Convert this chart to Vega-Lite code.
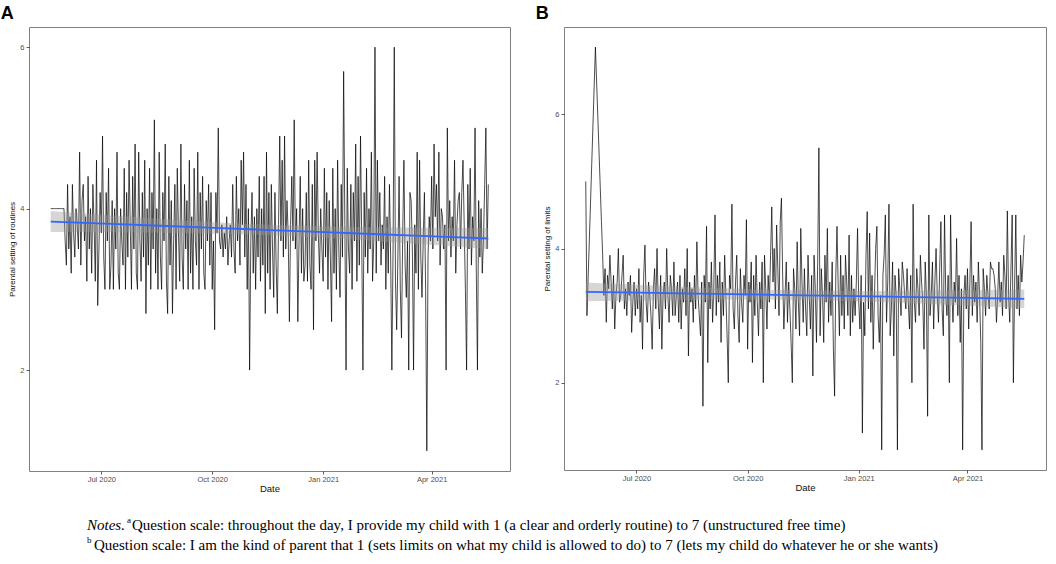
{
  "$schema": "https://vega.github.io/schema/vega-lite/v6.json",
  "autosize": {"type": "pad"},
  "padding": {"left": 0, "right": 4, "top": 4, "bottom": 0},
  "background": "white",
  "datasets": {
    "daily": [
      {"d":"2020-05-20","a":4.0,"b":5.0},{"d":"2020-05-21","a":4.0,"b":3.0},{"d":"2020-05-22","a":4.0,"b":null},{"d":"2020-05-23","a":4.0,"b":null},
      {"d":"2020-05-24","a":4.0,"b":null},{"d":"2020-05-25","a":4.0,"b":null},{"d":"2020-05-26","a":4.0,"b":null},{"d":"2020-05-27","a":4.0,"b":null},
      {"d":"2020-05-28","a":4.0,"b":7.0},{"d":"2020-05-29","a":4.0,"b":null},{"d":"2020-05-30","a":4.0,"b":null},{"d":"2020-05-31","a":4.0,"b":null},
      {"d":"2020-06-01","a":3.6,"b":null},{"d":"2020-06-02","a":3.3,"b":4.4},{"d":"2020-06-03","a":4.3,"b":3.9},{"d":"2020-06-04","a":3.5,"b":3.3},
      {"d":"2020-06-05","a":3.9,"b":3.7},{"d":"2020-06-06","a":3.2,"b":2.9},{"d":"2020-06-07","a":4.3,"b":3.6},{"d":"2020-06-08","a":3.7,"b":3.4},
      {"d":"2020-06-09","a":3.4,"b":3.9},{"d":"2020-06-10","a":4.0,"b":3.5},{"d":"2020-06-11","a":3.8,"b":3.1},{"d":"2020-06-12","a":3.5,"b":3.6},
      {"d":"2020-06-13","a":4.7,"b":2.8},{"d":"2020-06-14","a":3.3,"b":3.3},{"d":"2020-06-15","a":4.1,"b":3.5},{"d":"2020-06-16","a":4.3,"b":4.0},
      {"d":"2020-06-17","a":3.6,"b":3.2},{"d":"2020-06-18","a":3.9,"b":3.3},{"d":"2020-06-19","a":3.1,"b":3.6},{"d":"2020-06-20","a":4.4,"b":3.9},
      {"d":"2020-06-21","a":3.5,"b":3.1},{"d":"2020-06-22","a":4.0,"b":3.4},{"d":"2020-06-23","a":3.2,"b":3.0},{"d":"2020-06-24","a":4.3,"b":3.5},
      {"d":"2020-06-25","a":3.8,"b":3.3},{"d":"2020-06-26","a":3.1,"b":3.6},{"d":"2020-06-27","a":4.6,"b":2.75},{"d":"2020-06-28","a":2.8,"b":3.2},
      {"d":"2020-06-29","a":3.5,"b":3.5},{"d":"2020-06-30","a":4.2,"b":3.0},
      {"d":"2020-07-01","a":3.7,"b":3.4},{"d":"2020-07-02","a":4.9,"b":3.1},{"d":"2020-07-03","a":3.4,"b":3.7},{"d":"2020-07-04","a":3.0,"b":2.9},
      {"d":"2020-07-05","a":4.2,"b":3.3},{"d":"2020-07-06","a":3.6,"b":2.5},{"d":"2020-07-07","a":4.5,"b":3.6},{"d":"2020-07-08","a":3.0,"b":4.05},
      {"d":"2020-07-09","a":3.3,"b":3.2},{"d":"2020-07-10","a":4.1,"b":2.9},{"d":"2020-07-11","a":3.0,"b":3.5},{"d":"2020-07-12","a":4.0,"b":3.3},
      {"d":"2020-07-13","a":3.5,"b":3.0},{"d":"2020-07-14","a":4.7,"b":2.5},{"d":"2020-07-15","a":3.2,"b":3.4},{"d":"2020-07-16","a":3.0,"b":3.7},
      {"d":"2020-07-17","a":4.0,"b":3.1},{"d":"2020-07-18","a":3.6,"b":4.0},{"d":"2020-07-19","a":3.3,"b":3.2},{"d":"2020-07-20","a":4.5,"b":2.8},
      {"d":"2020-07-21","a":3.0,"b":3.6},{"d":"2020-07-22","a":4.2,"b":2.5},{"d":"2020-07-23","a":3.4,"b":3.3},{"d":"2020-07-24","a":4.6,"b":3.5},
      {"d":"2020-07-25","a":3.8,"b":3.1},{"d":"2020-07-26","a":3.0,"b":4.0},{"d":"2020-07-27","a":4.4,"b":3.3},{"d":"2020-07-28","a":3.5,"b":2.9},
      {"d":"2020-07-29","a":4.8,"b":3.6},{"d":"2020-07-30","a":3.2,"b":3.4},{"d":"2020-07-31","a":3.0,"b":3.0},
      {"d":"2020-08-01","a":4.7,"b":3.8},{"d":"2020-08-02","a":3.6,"b":3.0},{"d":"2020-08-03","a":3.1,"b":3.3},{"d":"2020-08-04","a":4.2,"b":3.5},
      {"d":"2020-08-05","a":3.4,"b":2.9},{"d":"2020-08-06","a":4.6,"b":3.6},{"d":"2020-08-07","a":2.7,"b":2.8},{"d":"2020-08-08","a":4.0,"b":3.4},
      {"d":"2020-08-09","a":3.3,"b":3.2},{"d":"2020-08-10","a":4.5,"b":3.7},{"d":"2020-08-11","a":3.0,"b":3.0},{"d":"2020-08-12","a":4.2,"b":4.0},
      {"d":"2020-08-13","a":3.5,"b":2.4},{"d":"2020-08-14","a":5.1,"b":3.5},{"d":"2020-08-15","a":3.2,"b":3.2},{"d":"2020-08-16","a":4.0,"b":3.4},
      {"d":"2020-08-17","a":3.0,"b":2.9},{"d":"2020-08-18","a":4.7,"b":3.6},{"d":"2020-08-19","a":3.4,"b":3.1},{"d":"2020-08-20","a":3.0,"b":4.1},
      {"d":"2020-08-21","a":4.2,"b":3.3},{"d":"2020-08-22","a":3.6,"b":3.0},{"d":"2020-08-23","a":4.8,"b":2.7},{"d":"2020-08-24","a":3.1,"b":3.5},
      {"d":"2020-08-25","a":2.7,"b":1.65},{"d":"2020-08-26","a":4.4,"b":3.6},{"d":"2020-08-27","a":3.3,"b":3.2},{"d":"2020-08-28","a":4.1,"b":4.33},
      {"d":"2020-08-29","a":2.7,"b":2.3},{"d":"2020-08-30","a":3.6,"b":3.5},{"d":"2020-08-31","a":4.3,"b":3.1},
      {"d":"2020-09-01","a":3.0,"b":3.8},{"d":"2020-09-02","a":4.5,"b":2.9},{"d":"2020-09-03","a":3.7,"b":3.4},{"d":"2020-09-04","a":3.1,"b":4.5},
      {"d":"2020-09-05","a":4.8,"b":3.0},{"d":"2020-09-06","a":3.4,"b":3.6},{"d":"2020-09-07","a":3.0,"b":3.2},{"d":"2020-09-08","a":4.3,"b":3.8},
      {"d":"2020-09-09","a":3.5,"b":2.6},{"d":"2020-09-10","a":4.1,"b":3.5},{"d":"2020-09-11","a":3.0,"b":3.0},{"d":"2020-09-12","a":4.6,"b":3.9},
      {"d":"2020-09-13","a":3.2,"b":3.3},{"d":"2020-09-14","a":3.9,"b":2.7},{"d":"2020-09-15","a":3.0,"b":2.0},{"d":"2020-09-16","a":4.5,"b":3.6},
      {"d":"2020-09-17","a":3.6,"b":3.4},{"d":"2020-09-18","a":3.3,"b":4.66},{"d":"2020-09-19","a":4.7,"b":3.1},{"d":"2020-09-20","a":3.0,"b":2.8},
      {"d":"2020-09-21","a":4.2,"b":3.5},{"d":"2020-09-22","a":3.5,"b":3.9},{"d":"2020-09-23","a":4.4,"b":3.0},{"d":"2020-09-24","a":3.2,"b":2.6},
      {"d":"2020-09-25","a":3.0,"b":3.7},{"d":"2020-09-26","a":4.1,"b":3.2},{"d":"2020-09-27","a":3.6,"b":2.9},{"d":"2020-09-28","a":4.3,"b":3.6},
      {"d":"2020-09-29","a":3.3,"b":3.3},{"d":"2020-09-30","a":4.2,"b":4.43},
      {"d":"2020-10-01","a":3.0,"b":2.5},{"d":"2020-10-02","a":3.6,"b":3.5},{"d":"2020-10-03","a":2.5,"b":3.2},{"d":"2020-10-04","a":4.2,"b":3.8},
      {"d":"2020-10-05","a":3.7,"b":2.3},{"d":"2020-10-06","a":5.0,"b":3.6},{"d":"2020-10-07","a":3.6,"b":3.0},{"d":"2020-10-08","a":3.5,"b":3.9},
      {"d":"2020-10-09","a":3.8,"b":3.2},{"d":"2020-10-10","a":3.4,"b":2.7},{"d":"2020-10-11","a":3.7,"b":3.5},{"d":"2020-10-12","a":3.5,"b":3.1},
      {"d":"2020-10-13","a":3.9,"b":3.8},{"d":"2020-10-14","a":3.3,"b":2.0},{"d":"2020-10-15","a":3.6,"b":3.9},{"d":"2020-10-16","a":3.8,"b":3.4},
      {"d":"2020-10-17","a":3.4,"b":2.8},{"d":"2020-10-18","a":4.3,"b":3.6},{"d":"2020-10-19","a":3.5,"b":3.2},{"d":"2020-10-20","a":3.2,"b":3.9},
      {"d":"2020-10-21","a":4.4,"b":4.62},{"d":"2020-10-22","a":3.6,"b":3.5},{"d":"2020-10-23","a":4.0,"b":4.0},{"d":"2020-10-24","a":3.3,"b":3.1},
      {"d":"2020-10-25","a":4.6,"b":4.35},{"d":"2020-10-26","a":3.8,"b":3.7},{"d":"2020-10-27","a":4.7,"b":3.0},{"d":"2020-10-28","a":3.4,"b":4.4},
      {"d":"2020-10-29","a":4.3,"b":4.75},{"d":"2020-10-30","a":3.0,"b":3.6},{"d":"2020-10-31","a":4.0,"b":2.8},
      {"d":"2020-11-01","a":2.0,"b":3.3},{"d":"2020-11-02","a":3.6,"b":3.8},{"d":"2020-11-03","a":4.2,"b":2.9},{"d":"2020-11-04","a":3.2,"b":3.5},
      {"d":"2020-11-05","a":3.9,"b":3.1},{"d":"2020-11-06","a":3.0,"b":2.6},{"d":"2020-11-07","a":4.0,"b":2.0},{"d":"2020-11-08","a":3.4,"b":3.7},
      {"d":"2020-11-09","a":4.4,"b":3.4},{"d":"2020-11-10","a":3.1,"b":2.8},{"d":"2020-11-11","a":4.0,"b":4.1},{"d":"2020-11-12","a":3.3,"b":3.2},
      {"d":"2020-11-13","a":4.4,"b":2.7},{"d":"2020-11-14","a":2.7,"b":4.3},{"d":"2020-11-15","a":4.7,"b":3.5},{"d":"2020-11-16","a":3.2,"b":2.9},
      {"d":"2020-11-17","a":4.2,"b":3.7},{"d":"2020-11-18","a":3.0,"b":3.1},{"d":"2020-11-19","a":4.3,"b":2.7},{"d":"2020-11-20","a":3.5,"b":3.9},
      {"d":"2020-11-21","a":2.9,"b":3.3},{"d":"2020-11-22","a":4.2,"b":2.8},{"d":"2020-11-23","a":3.3,"b":3.6},{"d":"2020-11-24","a":2.7,"b":2.1},
      {"d":"2020-11-25","a":3.8,"b":3.9},{"d":"2020-11-26","a":4.9,"b":3.4},{"d":"2020-11-27","a":3.6,"b":2.6},{"d":"2020-11-28","a":4.6,"b":3.8},
      {"d":"2020-11-29","a":3.4,"b":5.5},{"d":"2020-11-30","a":4.9,"b":2.7},
      {"d":"2020-12-01","a":3.5,"b":3.7},{"d":"2020-12-02","a":4.1,"b":3.3},{"d":"2020-12-03","a":3.7,"b":2.6},{"d":"2020-12-04","a":2.6,"b":3.9},
      {"d":"2020-12-05","a":3.8,"b":3.2},{"d":"2020-12-06","a":4.4,"b":4.3},{"d":"2020-12-07","a":3.6,"b":2.9},{"d":"2020-12-08","a":5.1,"b":3.5},
      {"d":"2020-12-09","a":3.5,"b":3.0},{"d":"2020-12-10","a":4.0,"b":3.8},{"d":"2020-12-11","a":2.6,"b":2.5},{"d":"2020-12-12","a":3.6,"b":1.8},
      {"d":"2020-12-13","a":4.4,"b":3.6},{"d":"2020-12-14","a":3.2,"b":4.33},{"d":"2020-12-15","a":4.0,"b":3.4},{"d":"2020-12-16","a":3.1,"b":2.7},
      {"d":"2020-12-17","a":3.3,"b":3.9},{"d":"2020-12-18","a":4.2,"b":3.0},{"d":"2020-12-19","a":3.1,"b":3.6},{"d":"2020-12-20","a":4.6,"b":2.8},
      {"d":"2020-12-21","a":3.3,"b":3.9},{"d":"2020-12-22","a":3.0,"b":3.5},{"d":"2020-12-23","a":4.3,"b":3.0},{"d":"2020-12-24","a":2.5,"b":4.2},
      {"d":"2020-12-25","a":4.6,"b":2.7},{"d":"2020-12-26","a":3.6,"b":3.6},{"d":"2020-12-27","a":4.7,"b":2.9},{"d":"2020-12-28","a":3.7,"b":3.4},
      {"d":"2020-12-29","a":3.2,"b":3.0},{"d":"2020-12-30","a":4.0,"b":3.5},{"d":"2020-12-31","a":3.5,"b":4.3},
      {"d":"2021-01-01","a":3.1,"b":3.2},{"d":"2021-01-02","a":4.5,"b":2.8},{"d":"2021-01-03","a":3.4,"b":3.6},{"d":"2021-01-04","a":4.2,"b":1.25},
      {"d":"2021-01-05","a":3.0,"b":3.2},{"d":"2021-01-06","a":4.1,"b":2.7},{"d":"2021-01-07","a":3.4,"b":3.9},{"d":"2021-01-08","a":2.6,"b":4.55},
      {"d":"2021-01-09","a":4.5,"b":3.1},{"d":"2021-01-10","a":3.2,"b":4.23},{"d":"2021-01-11","a":4.0,"b":2.9},{"d":"2021-01-12","a":3.0,"b":3.6},
      {"d":"2021-01-13","a":4.6,"b":2.5},{"d":"2021-01-14","a":3.5,"b":3.3},{"d":"2021-01-15","a":2.9,"b":4.0},{"d":"2021-01-16","a":4.3,"b":4.33},
      {"d":"2021-01-17","a":3.4,"b":3.0},{"d":"2021-01-18","a":5.7,"b":2.6},{"d":"2021-01-19","a":3.8,"b":3.3},{"d":"2021-01-20","a":2.0,"b":1.0},
      {"d":"2021-01-21","a":4.5,"b":3.6},{"d":"2021-01-22","a":3.5,"b":3.9},{"d":"2021-01-23","a":3.2,"b":4.5},{"d":"2021-01-24","a":4.3,"b":2.9},
      {"d":"2021-01-25","a":3.0,"b":3.5},{"d":"2021-01-26","a":4.2,"b":4.66},{"d":"2021-01-27","a":3.6,"b":2.7},{"d":"2021-01-28","a":4.8,"b":3.1},
      {"d":"2021-01-29","a":3.1,"b":3.8},{"d":"2021-01-30","a":4.4,"b":2.4},{"d":"2021-01-31","a":3.3,"b":3.6},
      {"d":"2021-02-01","a":4.9,"b":3.3},{"d":"2021-02-02","a":3.6,"b":1.0},{"d":"2021-02-03","a":2.0,"b":3.7},{"d":"2021-02-04","a":4.2,"b":3.4},
      {"d":"2021-02-05","a":3.4,"b":3.0},{"d":"2021-02-06","a":4.5,"b":3.8},{"d":"2021-02-07","a":3.2,"b":3.6},{"d":"2021-02-08","a":4.0,"b":3.3},
      {"d":"2021-02-09","a":3.5,"b":3.1},{"d":"2021-02-10","a":4.7,"b":3.7},{"d":"2021-02-11","a":3.1,"b":3.2},{"d":"2021-02-12","a":3.6,"b":2.8},
      {"d":"2021-02-13","a":6.0,"b":3.6},{"d":"2021-02-14","a":3.2,"b":2.0},{"d":"2021-02-15","a":4.6,"b":4.66},{"d":"2021-02-16","a":3.6,"b":3.2},
      {"d":"2021-02-17","a":4.2,"b":2.9},{"d":"2021-02-18","a":3.3,"b":3.7},{"d":"2021-02-19","a":3.8,"b":3.4},{"d":"2021-02-20","a":3.5,"b":3.0},
      {"d":"2021-02-21","a":4.4,"b":3.9},{"d":"2021-02-22","a":3.0,"b":3.5},{"d":"2021-02-23","a":3.9,"b":3.2},{"d":"2021-02-24","a":3.2,"b":2.5},
      {"d":"2021-02-25","a":4.3,"b":3.8},{"d":"2021-02-26","a":3.4,"b":3.3},{"d":"2021-02-27","a":2.0,"b":1.5},{"d":"2021-02-28","a":3.5,"b":4.5},
      {"d":"2021-03-01","a":6.0,"b":3.0},{"d":"2021-03-02","a":3.1,"b":3.3},{"d":"2021-03-03","a":2.5,"b":3.8},{"d":"2021-03-04","a":3.4,"b":2.8},
      {"d":"2021-03-05","a":4.4,"b":3.5},{"d":"2021-03-06","a":3.0,"b":4.0},{"d":"2021-03-07","a":2.4,"b":3.3},{"d":"2021-03-08","a":3.7,"b":2.9},
      {"d":"2021-03-09","a":4.6,"b":3.7},{"d":"2021-03-10","a":3.3,"b":4.4},{"d":"2021-03-11","a":2.9,"b":3.1},{"d":"2021-03-12","a":3.6,"b":2.7},
      {"d":"2021-03-13","a":2.0,"b":4.5},{"d":"2021-03-14","a":4.2,"b":3.3},{"d":"2021-03-15","a":4.1,"b":3.0},{"d":"2021-03-16","a":3.5,"b":3.6},
      {"d":"2021-03-17","a":2.0,"b":2.0},{"d":"2021-03-18","a":3.8,"b":4.5},{"d":"2021-03-19","a":3.2,"b":3.4},{"d":"2021-03-20","a":4.7,"b":2.9},
      {"d":"2021-03-21","a":3.0,"b":3.5},{"d":"2021-03-22","a":4.6,"b":3.2},{"d":"2021-03-23","a":3.4,"b":4.15},{"d":"2021-03-24","a":2.9,"b":3.0},
      {"d":"2021-03-25","a":3.6,"b":3.6},{"d":"2021-03-26","a":4.2,"b":2.6},{"d":"2021-03-27","a":3.0,"b":3.4},{"d":"2021-03-28","a":1.0,"b":1.0},
      {"d":"2021-03-29","a":3.4,"b":3.3},{"d":"2021-03-30","a":3.9,"b":3.6},{"d":"2021-03-31","a":3.6,"b":3.1},
      {"d":"2021-04-01","a":4.4,"b":3.7},{"d":"2021-04-02","a":3.5,"b":2.8},{"d":"2021-04-03","a":4.8,"b":3.5},{"d":"2021-04-04","a":3.9,"b":4.4},
      {"d":"2021-04-05","a":4.3,"b":3.0},{"d":"2021-04-06","a":3.6,"b":3.6},{"d":"2021-04-07","a":4.7,"b":3.2},{"d":"2021-04-08","a":3.3,"b":3.5},
      {"d":"2021-04-09","a":4.0,"b":2.9},{"d":"2021-04-10","a":3.9,"b":3.8},{"d":"2021-04-11","a":3.5,"b":3.3},{"d":"2021-04-12","a":3.8,"b":2.6},
      {"d":"2021-04-13","a":2.0,"b":1.0},{"d":"2021-04-14","a":5.0,"b":3.7},{"d":"2021-04-15","a":3.6,"b":3.4},{"d":"2021-04-16","a":4.1,"b":3.0},
      {"d":"2021-04-17","a":3.4,"b":3.6},{"d":"2021-04-18","a":3.9,"b":3.3},{"d":"2021-04-19","a":3.6,"b":3.1},{"d":"2021-04-20","a":4.6,"b":3.8},
      {"d":"2021-04-21","a":3.2,"b":3.7},{"d":"2021-04-22","a":3.8,"b":3.7},{"d":"2021-04-23","a":4.1,"b":3.6},{"d":"2021-04-24","a":4.2,"b":3.4},
      {"d":"2021-04-25","a":3.5,"b":2.9},{"d":"2021-04-26","a":4.2,"b":3.3},{"d":"2021-04-27","a":4.6,"b":3.8},{"d":"2021-04-28","a":3.8,"b":3.2},
      {"d":"2021-04-29","a":3.0,"b":3.5},{"d":"2021-04-30","a":2.0,"b":3.0},
      {"d":"2021-05-01","a":4.3,"b":3.9},{"d":"2021-05-02","a":3.5,"b":3.6},{"d":"2021-05-03","a":4.5,"b":3.1},{"d":"2021-05-04","a":3.3,"b":4.56},
      {"d":"2021-05-05","a":3.9,"b":3.3},{"d":"2021-05-06","a":3.6,"b":2.9},{"d":"2021-05-07","a":5.0,"b":3.7},{"d":"2021-05-08","a":3.3,"b":4.5},
      {"d":"2021-05-09","a":2.0,"b":2.0},{"d":"2021-05-10","a":4.1,"b":3.4},{"d":"2021-05-11","a":3.4,"b":4.5},{"d":"2021-05-12","a":4.0,"b":3.1},
      {"d":"2021-05-13","a":3.2,"b":3.6},{"d":"2021-05-14","a":3.6,"b":3.0},{"d":"2021-05-15","a":4.3,"b":3.9},{"d":"2021-05-16","a":5.0,"b":3.5},
      {"d":"2021-05-17","a":3.5,"b":3.8},{"d":"2021-05-18","a":4.3,"b":4.2}
    ],
    "fitA": [
      {"d":"2020-05-20","fit":3.84,"lo":3.71,"hi":3.97},
      {"d":"2020-07-04","fit":3.814,"lo":3.707,"hi":3.921},
      {"d":"2020-08-19","fit":3.788,"lo":3.702,"hi":3.874},
      {"d":"2020-10-03","fit":3.761,"lo":3.69,"hi":3.832},
      {"d":"2020-11-18","fit":3.735,"lo":3.67,"hi":3.8},
      {"d":"2021-01-02","fit":3.709,"lo":3.638,"hi":3.78},
      {"d":"2021-02-16","fit":3.683,"lo":3.597,"hi":3.769},
      {"d":"2021-04-03","fit":3.656,"lo":3.549,"hi":3.763},
      {"d":"2021-05-18","fit":3.63,"lo":3.5,"hi":3.76}
    ],
    "fitB": [
      {"d":"2020-05-20","fit":3.355,"lo":3.215,"hi":3.495},
      {"d":"2020-07-04","fit":3.342,"lo":3.227,"hi":3.457},
      {"d":"2020-08-19","fit":3.329,"lo":3.236,"hi":3.422},
      {"d":"2020-10-03","fit":3.316,"lo":3.24,"hi":3.392},
      {"d":"2020-11-18","fit":3.303,"lo":3.233,"hi":3.373},
      {"d":"2021-01-02","fit":3.289,"lo":3.213,"hi":3.365},
      {"d":"2021-02-16","fit":3.276,"lo":3.183,"hi":3.369},
      {"d":"2021-04-03","fit":3.263,"lo":3.148,"hi":3.378},
      {"d":"2021-05-18","fit":3.25,"lo":3.11,"hi":3.39}
    ],
    "notes": [
      {"line":1,"part":"label","text":"Notes."},
      {"line":1,"part":"supa","text":"a"},
      {"line":1,"part":"texta","text":"Question scale: throughout the day, I provide my child with 1 (a clear and orderly routine) to 7 (unstructured free time)"},
      {"line":2,"part":"supb","text":"b"},
      {"line":2,"part":"textb","text":"Question scale: I am the kind of parent that 1 (sets limits on what my child is allowed to do) to 7 (lets my child do whatever he or she wants)"}
    ]
  },
  "vconcat": [
    {
      "hconcat": [
        {
          "width": 481,
          "height": 444,
          "title": {"text": "A"},
          "encoding": {
            "x": {
              "field": "d",
              "type": "temporal",
              "title": "Date",
              "scale": {"type": "utc", "domain": [{"year": 2020, "month": 5, "date": 2, "utc": true}, {"year": 2021, "month": 6, "date": 5, "utc": true}]},
              "axis": {
                "values": [{"year": 2020, "month": 7, "date": 1, "utc": true}, {"year": 2020, "month": 10, "date": 1, "utc": true}, {"year": 2021, "month": 1, "date": 1, "utc": true}, {"year": 2021, "month": 4, "date": 1, "utc": true}],
                "labelExpr": "utcFormat(datum.value, '%b %Y')"
              }
            }
          },
          "layer": [
            {
              "data": {"name": "daily"},
              "transform": [{"filter": "isValid(datum.a)"}],
              "mark": {"type": "line", "color": "#000000", "strokeWidth": 0.7},
              "encoding": {
                "y": {"field": "a", "type": "quantitative", "title": "Parental setting of routines", "scale": {"domain": [0.75, 6.25], "nice": false, "zero": false}, "axis": {"values": [2, 4, 6], "format": "d"}}
              }
            },
            {
              "data": {"name": "fitA"},
              "mark": {"type": "area", "color": "#999999", "opacity": 0.4},
              "encoding": {
                "y": {"field": "lo", "type": "quantitative", "title": "Parental setting of routines"},
                "y2": {"field": "hi"}
              }
            },
            {
              "data": {"name": "fitA"},
              "mark": {"type": "line", "color": "#3366ff", "strokeWidth": 1.8},
              "encoding": {
                "y": {"field": "fit", "type": "quantitative", "title": "Parental setting of routines"}
              }
            }
          ]
        },
        {
          "width": 482,
          "height": 443,
          "title": {"text": "B"},
          "encoding": {
            "x": {
              "field": "d",
              "type": "temporal",
              "title": "Date",
              "scale": {"type": "utc", "domain": [{"year": 2020, "month": 5, "date": 2, "utc": true}, {"year": 2021, "month": 6, "date": 5, "utc": true}]},
              "axis": {
                "values": [{"year": 2020, "month": 7, "date": 1, "utc": true}, {"year": 2020, "month": 10, "date": 1, "utc": true}, {"year": 2021, "month": 1, "date": 1, "utc": true}, {"year": 2021, "month": 4, "date": 1, "utc": true}],
                "labelExpr": "utcFormat(datum.value, '%b %Y')"
              }
            }
          },
          "layer": [
            {
              "data": {"name": "daily"},
              "transform": [{"filter": "isValid(datum.b)"}],
              "mark": {"type": "line", "color": "#000000", "strokeWidth": 0.7},
              "encoding": {
                "y": {"field": "b", "type": "quantitative", "title": "Parental setting of limits", "scale": {"domain": [0.7, 7.3], "nice": false, "zero": false}, "axis": {"values": [2, 4, 6], "format": "d"}}
              }
            },
            {
              "data": {"name": "fitB"},
              "mark": {"type": "area", "color": "#999999", "opacity": 0.4},
              "encoding": {
                "y": {"field": "lo", "type": "quantitative", "title": "Parental setting of limits"},
                "y2": {"field": "hi"}
              }
            },
            {
              "data": {"name": "fitB"},
              "mark": {"type": "line", "color": "#3366ff", "strokeWidth": 1.8},
              "encoding": {
                "y": {"field": "fit", "type": "quantitative", "title": "Parental setting of limits"}
              }
            }
          ]
        }
      ],
      "spacing": 24
    },
    {
      "width": 116,
      "height": 40,
      "view": {"stroke": null},
      "data": {"name": "notes"},
      "encoding": {
        "y": {"field": "line", "type": "ordinal", "axis": null, "scale": {"paddingInner": 0, "paddingOuter": 0}}
      },
      "layer": [
        {
          "transform": [{"filter": "datum.part == 'label'"}],
          "mark": {"type": "text", "align": "left", "baseline": "middle", "font": "Liberation Serif", "fontSize": 15, "fontStyle": "italic", "color": "#000000"},
          "encoding": {"text": {"field": "text"}}
        },
        {
          "transform": [{"filter": "datum.part == 'supa'"}],
          "mark": {"type": "text", "align": "left", "baseline": "middle", "font": "Liberation Serif", "fontSize": 9, "dx": 40, "dy": -5, "color": "#000000"},
          "encoding": {"text": {"field": "text"}}
        },
        {
          "transform": [{"filter": "datum.part == 'texta'"}],
          "mark": {"type": "text", "align": "left", "baseline": "middle", "font": "Liberation Serif", "fontSize": 15, "dx": 45, "color": "#000000"},
          "encoding": {"text": {"field": "text"}}
        },
        {
          "transform": [{"filter": "datum.part == 'supb'"}],
          "mark": {"type": "text", "align": "left", "baseline": "middle", "font": "Liberation Serif", "fontSize": 9, "dy": -5, "color": "#000000"},
          "encoding": {"text": {"field": "text"}}
        },
        {
          "transform": [{"filter": "datum.part == 'textb'"}],
          "mark": {"type": "text", "align": "left", "baseline": "middle", "font": "Liberation Serif", "fontSize": 15, "dx": 7, "color": "#000000"},
          "encoding": {"text": {"field": "text"}}
        }
      ]
    }
  ],
  "spacing": 21,
  "config": {
    "view": {"stroke": "#808080", "strokeWidth": 1},
    "axis": {
      "domain": false,
      "grid": false,
      "labelFont": "Liberation Sans",
      "labelFontSize": 7.5,
      "labelColor": "#4d4d4d",
      "labelPadding": 2,
      "tickColor": "#333333",
      "tickSize": 3,
      "tickWidth": 0.8,
      "titleFont": "Liberation Sans",
      "titleFontWeight": "normal",
      "titleColor": "#111111"
    },
    "axisX": {"titleFontSize": 9.5, "titlePadding": 1, "labelPadding": 1},
    "axisY": {"titleFontSize": 8, "titlePadding": 3},
    "title": {
      "anchor": "start",
      "frame": "bounds",
      "font": "Liberation Sans",
      "fontSize": 18,
      "fontWeight": "bold",
      "color": "#000000",
      "offset": 4,
      "dx": -8
    }
  }
}
